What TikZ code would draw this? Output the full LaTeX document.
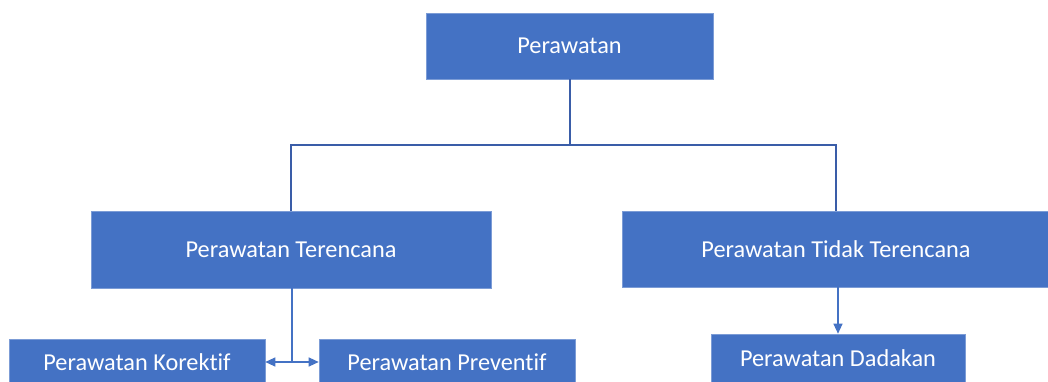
\documentclass[tikz,border=0pt]{standalone}
\usepackage{fontspec}
\setmainfont[Ligatures={NoCommon}]{Carlito}
\usetikzlibrary{arrows.meta}
\definecolor{boxblue}{HTML}{4472C4}
\definecolor{linedark}{HTML}{3A5DA8}
\tikzset{
  box/.style={rectangle, fill=boxblue, draw=boxblue!70!white, line width=0.6pt, text=white, font=\fontsize{24.3}{29}\selectfont, inner sep=0pt, anchor=center},
  conn/.style={draw=linedark, line width=1.6pt},
  arr/.style={draw=boxblue, line width=1.2pt, -{Triangle[width=9pt,length=10pt]}}
}
\begin{document}
\begin{tikzpicture}[x=1pt,y=1pt]
\useasboundingbox (0,0) rectangle (1048,382);
\clip (0,0) rectangle (1048,382);
\fill[white] (0,0) rectangle (1048,382);
% y_tikz = 382 - y_px
\node[box, minimum width=287pt, minimum height=66pt] (top) at (569.5,336) {Perawatan};
\node[box, minimum width=400pt, minimum height=77pt] (plan) at (291,132.5) {Perawatan Terencana};
\node[box, minimum width=428pt, minimum height=76pt] (unplan) at (836,133) {Perawatan Tidak Terencana};
\node[box, minimum width=256pt, minimum height=46pt] (kor) at (137,20) {Perawatan Korektif};
\node[box, minimum width=256pt, minimum height=46pt] (prev) at (447,20) {Perawatan Preventif};
\node[box, minimum width=254pt, minimum height=48pt] (dad) at (838,24) {Perawatan Dadakan};
\coordinate (hl) at (291,237);
\coordinate (hr) at (836,237);
\coordinate (hm) at (570,237);
\draw[conn] (top.south -| hm) -- (hm);
\draw[conn] (plan.north -| hl) |- (hr) -- (unplan.north -| hr);
\coordinate (split) at (292,20);
\draw[draw=boxblue, line width=1.2pt] (plan.south -| split) -- (split);
\draw[arr] (split) -- (kor.east |- split);
\draw[arr] (split) -- (prev.west |- split);
\draw[arr] (unplan.south -| dad.north) -- (dad.north);
\end{tikzpicture}
\end{document}
